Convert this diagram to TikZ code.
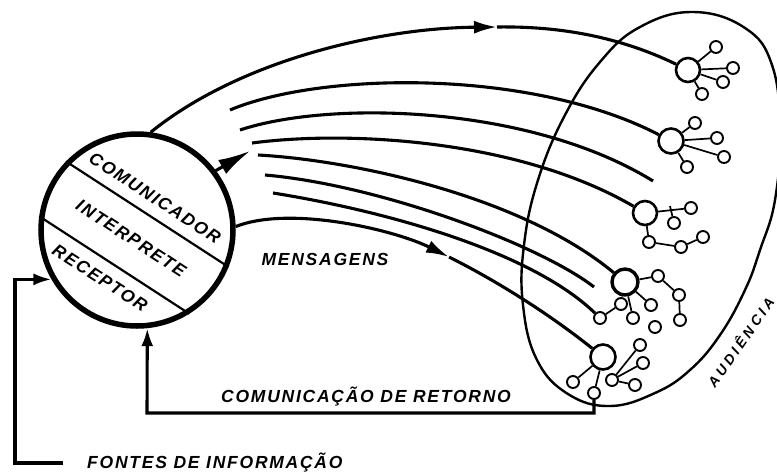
\documentclass[tikz,border=0pt]{standalone}
\usepackage{fontspec}
\newfontfamily\labfont[LetterSpace=10]{Liberation Sans}
\newfontfamily\audfont[LetterSpace=24]{Liberation Sans}
\usetikzlibrary{arrows.meta}
\begin{document}
\begin{tikzpicture}[x=1pt,y=-1pt,
  conn/.style={line width=3.1pt},
  chord/.style={line width=2.2pt},
  bigc/.style={circle, draw, line width=2.6pt, minimum size=24pt, inner sep=0pt, fill=white},
  smc/.style={circle, draw, line width=1.9pt, minimum size=12pt, inner sep=0pt, fill=white},
  lnk/.style={line width=1.7pt},
  lbl/.style={font=\labfont\bfseries\itshape\fontsize{17.5}{17.5}\selectfont, inner sep=0pt},
  tipA/.style={-{Latex[length=23pt,width=13pt]}},
  tipB/.style={-{Latex[length=18pt,width=12pt]}}]
\fill[white] (0,0) rectangle (777,472);
\useasboundingbox (0,0) rectangle (777,472);

% audience outline
\draw[line width=2.4pt] plot[smooth cycle, tension=0.7] coordinates {
 (693,12) (745,28) (772,65) (780,130) (775,200) (760,250) (745,290)
 (720,335) (690,370) (655,393) (610,406) (568,394) (537,360) (523,305)
 (524,245) (538,180) (565,115) (600,62) (640,27)};

% source circle
\node[circle, draw, line width=5.5pt, minimum size=192pt, inner sep=0pt] (c) at (137,230) {};
\draw[chord] (c.136) -- (c.-22);
\draw[chord] (c.172) -- (c.-58);
\node[lbl, rotate=-33] (tc) at (155,198) {COMUNICADOR};
\node[lbl, rotate=-33] (ti) at (131,238) {INTERPRETE};
\node[lbl, rotate=-33] (tr) at (100,278) {RECEPTOR};

% audience members
\node[bigc] (a1) at (688,70) {};
\node[smc] (a1a) at (716,47) {};
\node[smc] (a1b) at (733,68) {};
\node[smc] (a1c) at (723,82) {};
\node[smc] (a1d) at (702,94) {};
\draw[lnk] (a1) -- (a1a); \draw[lnk] (a1) -- (a1b);
\draw[lnk] (a1) -- (a1c); \draw[lnk] (a1) -- (a1d);

\node[bigc, minimum size=25pt] (a2) at (671,141) {};
\node[smc] (a2a) at (695,123) {};
\node[smc] (a2b) at (717,138) {};
\node[smc] (a2c) at (724,157) {};
\node[smc] (a2d) at (687,167) {};
\draw[lnk] (a2) -- (a2a); \draw[lnk] (a2) -- (a2b);
\draw[lnk] (a2) -- (a2c); \draw[lnk] (a2) -- (a2d);

\node[bigc] (a3) at (645,213) {};
\node[smc] (a3e) at (691,208) {};
\node[smc] (a3f) at (674,223) {};
\node[smc] (a3g) at (649,242) {};
\node[smc] (a3h) at (681,247) {};
\node[smc] (a3i) at (703,237) {};
\coordinate (a3j) at (670,206);
\draw[lnk] (a3) -- (a3e); \draw[lnk] (a3j) -- (a3f);
\draw[lnk] (a3) -- (a3g); \draw[lnk] (a3g) -- (a3h); \draw[lnk] (a3h) -- (a3i);

\node[bigc, line width=3.4pt, minimum size=26pt] (a4) at (625,282) {};
\node[smc] (a4j) at (658,276) {};
\node[smc] (a4k) at (679,295) {};
\node[smc] (a4l) at (680,320) {};
\node[smc] (a4m) at (651,305) {};
\node[smc] (a4o) at (621,304) {};
\node[smc] (a4n) at (633,318) {};
\node[smc] (a4p) at (600,318) {};
\node[smc] (a4q) at (655,327) {};
\draw[lnk] (a4) -- (a4j); \draw[lnk] (a4j) -- (a4k); \draw[lnk] (a4k) -- (a4l);
\draw[lnk] (a4) -- (a4m); \draw[lnk] (a4) -- (a4o); \draw[lnk] (a4) -- (a4n);
\draw[lnk] (a4o) -- (a4p);

\node[bigc, minimum size=25pt] (a5) at (603,357) {};
\node[smc] (a5r) at (573,382) {};
\node[smc] (a5s) at (594,393) {};
\node[smc] (a5t) at (612,380) {};
\node[smc] (a5w) at (640,345) {};
\node[smc] (a5v) at (643,363) {};
\node[smc] (a5u) at (635,385) {};
\draw[lnk] (a5) -- (a5r); \draw[lnk] (a5) -- (a5s);
\draw[lnk] (a5t) -- (a5w); \draw[lnk] (a5t) -- (a5v); \draw[lnk] (a5t) -- (a5u);

% message lines
\coordinate (tA) at (497,27);
\draw[conn, tipA] (c.82) .. controls (240,60) and (380,28) .. (tA);
\draw[conn] (tA) .. controls (560,26) and (620,37) .. (a1);

\coordinate (s1) at (230,110);
\coordinate (s2) at (240,130);
\coordinate (s3) at (252,143);
\coordinate (s4) at (258,155);
\coordinate (s5) at (265,175);
\coordinate (s6) at (273,193);
\coordinate (e2) at (653,181);
\coordinate (e5) at (594,287);
\draw[conn] (s1) .. controls (320,72) and (530,68) .. (a2);
\draw[conn] (s2) .. controls (330,100) and (530,105) .. (e2);
\draw[conn] (s3) .. controls (350,130) and (520,140) .. (a3);
\draw[conn] (s4) .. controls (350,160) and (520,195) .. (a4);
\draw[conn] (s5) .. controls (380,185) and (540,245) .. (e5);
\draw[conn] (s6) .. controls (380,210) and (530,250) .. (a4p);

\coordinate (mA) at (449,257);
\draw[conn, tipA] (c.2) .. controls (290,205) and (395,230) .. (mA);
\draw[conn] (mA) .. controls (495,280) and (548,313) .. (a5);
\node[lbl] (tm) at (325,259) {MENSAGENS};

% wedge arrow at the circle
\coordinate (ar0) at (250,151);
\draw[conn, -{Latex[length=32pt,width=16pt]}] (c.37) -- (ar0);

% feedback
\coordinate (fb1) at (594,413);
\coordinate (fb2) at (147,413);
\draw[conn, tipB] (a5s) -- (fb1) -- (fb2) -- (c.-84);
\node[lbl] (tf) at (366,397) {COMUNICAÇÃO DE RETORNO};

% information sources
\coordinate (fl0) at (63,463);
\coordinate (fl1) at (15,463);
\draw[conn, tipB] (fl0) -- (fl1) -- (fl1 |- c.210) -- (c.210);
\node[lbl, anchor=west] (tfo) at (87,463) {FONTES DE INFORMAÇÃO};

\node[font=\audfont\bfseries\itshape\fontsize{14}{14}\selectfont, inner sep=0pt, rotate=55] (ta) at (740,342) {AUDIÊNCIA};
\end{tikzpicture}
\end{document}
